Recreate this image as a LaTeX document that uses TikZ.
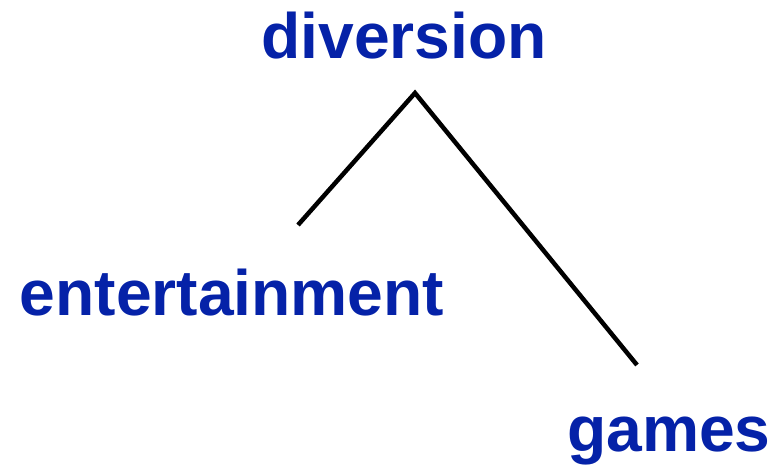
\documentclass[tikz,border=0pt]{standalone}
\usepackage{fontspec}
\setmainfont{Liberation Sans}
\usepackage{tikz}
\usetikzlibrary{positioning}
\definecolor{wordblue}{HTML}{0522A8}

\begin{document}
\begin{tikzpicture}[x=1pt, y=-1pt,
    word/.style={anchor=base, inner sep=0pt, text=wordblue,
                 font=\fontsize{64.2}{70}\selectfont\bfseries},
    branch/.style={line width=4.5pt, color=black}
]
\useasboundingbox (0,0) rectangle (782,464);

% --- words ---
\node[word] (div) at (404,58)  {diversion};
\node[word] (ent) at (232,315) {entertainment};
\node[word] (gam) at (669,451) {games};

% --- branch points ---
\coordinate (apex)  at (415,93);
\coordinate (entend) at (298,225);
\coordinate (gamend) at (637,365);

% --- branches ---
\draw[branch] (entend) -- (apex) -- (gamend);

\end{tikzpicture}
\end{document}
